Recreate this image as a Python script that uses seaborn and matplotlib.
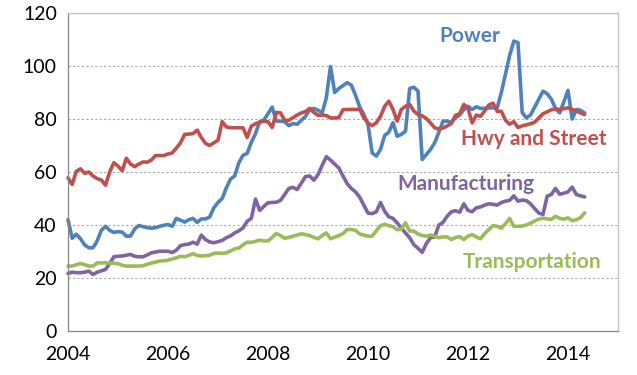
import numpy as np
import pandas as pd
import matplotlib
matplotlib.use("Agg")
import matplotlib.pyplot as plt
import seaborn as sns

# Monthly index values, Jan 2004 .. May 2014
power = [42, 35, 36.5, 34.8, 32.5, 31.4, 31.4, 34, 38, 39.5, 38, 37.2,
         37.5, 37.3, 35.8, 35.8, 38.5, 39.8, 39.4, 39, 38.8, 39, 39.5, 39.9,
         40.2, 39.5, 42.5, 41.8, 41.1, 42, 42.5, 41, 42.3, 42.3, 43, 46.5,
         48.5, 50, 54, 57.3, 58.5, 63.5, 66.3, 67, 71.2, 74.5, 78.9, 79.6,
         82, 84.5, 79.2, 79.2, 79, 77.5, 78.3, 78, 79.5, 81, 83.5, 84,
         83.3, 82.3, 88, 99.8, 90, 91.5, 92.6, 93.7, 92.8, 89, 84.5, 81.7,
         78, 67.2, 66, 68.5, 73.8, 75, 78.6, 73.5, 74.2, 75.4, 91.5, 92,
         90.5, 64.7, 66.6, 68.5, 71, 75, 79.2, 79.2, 78.7, 80.5, 81.5, 83.5,
         84.8, 83.6, 84.6, 84, 84, 84.2, 84.2, 84.2, 90, 97, 104, 109.4,
         108.8, 82.5, 80.4, 81.5, 84.5, 87.5, 90.5, 89.5, 87.5, 84, 82.3, 86.5,
         90.8, 80, 83.6, 83.3, 82.3]

hwy = [57.8, 55.3, 60.3, 61.2, 59.5, 60, 58.5, 57.5, 57, 55, 60, 63.5,
       62.2, 60.5, 65.2, 63, 62, 63, 63.8, 63.7, 64.5, 66.2, 66.2, 66.2,
       66.8, 67.2, 69, 71, 74.2, 74.3, 74.5, 75.8, 73, 70.8, 70, 71,
       72, 79, 77, 76.7, 76.7, 76.7, 76.7, 73, 77.3, 78.2, 78.8, 79.2,
       79, 76.8, 82.5, 82.3, 79.5, 79.5, 80.5, 81.5, 82.3, 82.8, 84, 82.5,
       81.4, 81.5, 81.3, 80.4, 80.4, 80.5, 83.5, 83.6, 83.6, 83.6, 83.6, 80.5,
       78.5, 77.5, 78.6, 81, 84.8, 86.7, 83.6, 79.2, 83.6, 84.8, 85.5, 83,
       81.7, 81.2, 80.2, 78.5, 76.7, 76.2, 76.6, 77.4, 78.3, 81.4, 82, 85.5,
       84, 78.5, 81.5, 81, 83, 85.3, 86, 82.9, 82.9, 79.5, 78, 79,
       76.8, 77.4, 77.8, 78.2, 78.8, 80.4, 82, 82.7, 83.5, 83.8, 83.6, 83.9,
       84.2, 83.6, 83, 82.3, 81.7]

manufacturing = [21.7, 22.2, 22, 22, 22.2, 22.6, 21.3, 22.2, 22.7, 23.2, 25.5, 28,
                 28.2, 28.3, 28.6, 28.9, 28.2, 28, 28, 28.7, 29.5, 29.8, 30.1, 30.1,
                 30.1, 29.6, 30.5, 32.2, 32.6, 32.8, 33.5, 32.8, 36.2, 34.5, 33.6, 33.3,
                 33.7, 34.2, 35.2, 35.9, 37, 37.8, 38.9, 41.4, 42.5, 49.8, 45.5, 47,
                 48.4, 48.5, 48.6, 49.3, 51.5, 53.8, 54.2, 53.4, 55.8, 58.3, 58.5, 56.9,
                 59, 62.5, 65.8, 64.5, 63, 61.5, 58.5, 55.6, 53.8, 52.5, 50.5, 47.5,
                 44.5, 44.3, 45, 48.5, 45.2, 43.1, 42.5, 40.8, 38.8, 37, 35.2, 32.6,
                 31.2, 29.7, 33, 35.2, 35.5, 40, 41, 43.3, 45, 45.4, 44.8, 48,
                 45.5, 45, 46.5, 46.8, 47.5, 48, 47.8, 47.5, 48.5, 49, 49.3, 51,
                 49, 49.4, 49.2, 48, 46.2, 44.5, 44, 50.9, 51.5, 53.8, 51.6, 52,
                 52.5, 54.3, 51.5, 51, 50.6]

transportation = [24.5, 24.5, 25, 25.5, 25, 24.5, 24.5, 25.7, 25.7, 25.7, 25.7, 25.6,
                  25.4, 24.8, 24.5, 24.5, 24.5, 24.5, 24.6, 25.2, 25.6, 26, 26.4, 26.5,
                  26.7, 27.2, 27.6, 28.2, 28, 28.5, 29.2, 28.5, 28.3, 28.4, 28.6, 29.3,
                  29.4, 29.3, 29.5, 30.2, 31, 31.3, 32.5, 33.5, 33.5, 33.8, 34.3, 34,
                  34, 35.3, 36.8, 36, 35, 35.3, 35.8, 36.2, 36.7, 36.4, 36, 35.3,
                  34.8, 36, 37, 34.8, 35.4, 36, 36.8, 38.3, 38.3, 38, 36.6, 36.2,
                  35.8, 35.8, 37.8, 39.8, 40.2, 39.8, 39.3, 38.2, 38.5, 40.8, 37.7, 37.7,
                  36.6, 36, 35.8, 36.2, 35.8, 35.2, 35.5, 35.5, 34.5, 35.3, 35.6, 34.5,
                  35.8, 36.4, 35.5, 34.8, 36.8, 38.3, 39.8, 39.5, 38.8, 40.5, 42.5, 39.5,
                  39.5, 39.6, 40, 40.7, 41.5, 42.2, 42.6, 42.3, 42.1, 43.3, 42.5, 42.2,
                  42.7, 41.6, 42, 42.8, 44.6]

series_names = ["Power", "Hwy and Street", "Manufacturing", "Transportation"]
colors = ["#4F81BD", "#C0504D", "#8064A2", "#9BBB59"]
year_ticks = list(range(2004, 2016))
year_labels = [str(y) if y % 2 == 0 else "" for y in year_ticks]
y_ticks = [0, 20, 40, 60, 80, 100, 120]

dates = pd.date_range("2004-01-01", periods=len(power), freq="MS")
decimal_year = dates.year + (dates.month - 1) / 12.0

frames = []
for name, vals in zip(series_names, [power, hwy, manufacturing, transportation]):
    frames.append(pd.DataFrame({"year": decimal_year, "value": vals, "series": name}))
df = pd.concat(frames, ignore_index=True)

sns.set_theme(style="white")
plt.rcParams["font.family"] = ["Lato", "DejaVu Sans"]

fig = plt.figure(figsize=(6.37, 3.75), dpi=100)
ax = fig.add_axes([68 / 637, 44 / 375, 550 / 637, 318 / 375])

sns.lineplot(data=df, x="year", y="value", hue="series", hue_order=series_names,
             palette=colors, linewidth=2.6, legend=False, ax=ax)
for line in ax.get_lines():
    line.set_clip_on(False)
    line.set_solid_joinstyle("round")

ax.set_xlim(2004, 2015)
ax.set_ylim(0, 120)
ax.set_xticks(year_ticks)
ax.set_xticklabels(year_labels)
ax.set_yticks(y_ticks)
ax.set_xlabel("")
ax.set_ylabel("")
ax.tick_params(axis="x", direction="out", length=5, width=0.8, color="#868686",
               labelsize=14, pad=6, labelcolor="black")
ax.tick_params(axis="y", length=0, labelsize=14, pad=8, labelcolor="black")
ax.yaxis.grid(True, linestyle=(0, (2, 2)), color="#A6A6A6", linewidth=0.8)
ax.xaxis.grid(False)
for side in ["left", "bottom"]:
    ax.spines[side].set_color("#868686")
    ax.spines[side].set_linewidth(0.9)
for side in ["top", "right"]:
    ax.spines[side].set_visible(True)
    ax.spines[side].set_color("#BFBFBF")
    ax.spines[side].set_linewidth(0.9)

label_pos = {
    "Power": (2012.04, 111.5),
    "Hwy and Street": (2013.31, 72.3),
    "Manufacturing": (2011.96, 55.3),
    "Transportation": (2013.28, 26.2),
}
for name, col in zip(series_names, colors):
    x, y = label_pos[name]
    ax.text(x, y, name, color=col, fontsize=15, fontweight="bold",
            ha="center", va="center")

fig.savefig("out.png", dpi=100)
